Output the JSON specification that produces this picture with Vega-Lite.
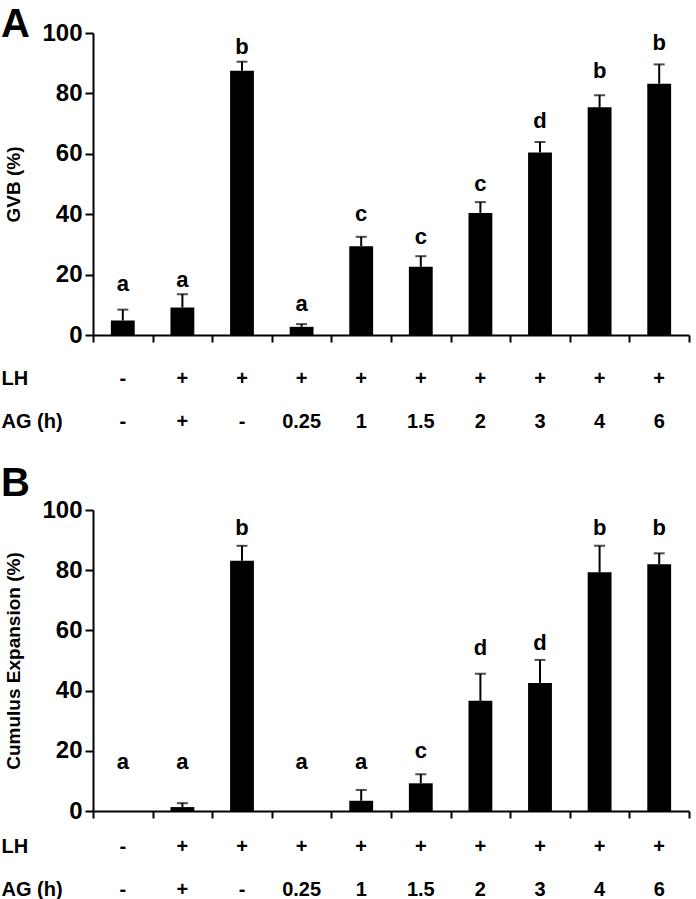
{
  "$schema": "https://vega.github.io/schema/vega-lite/v6.json",
  "background": "white",
  "padding": {"left": 0, "top": 5, "right": 3, "bottom": 0},
  "config": {
    "font": "Liberation Sans",
    "view": {"stroke": null},
    "axisQuantitative": {
      "grid": false,
      "domainColor": "black", "domainWidth": 2,
      "tickColor": "black", "tickWidth": 2, "tickSize": 8,
      "labelFontSize": 24, "labelFontWeight": "bold", "labelColor": "black", "labelPadding": 3,
      "titleFontSize": 19, "titleFontWeight": "bold", "titleColor": "black", "titlePadding": 18
    }
  },
  "datasets": {
    "gvb": [
      {"cond": "LH-/AG-", "LH": "-", "AG (h)": "-", "mean": 4.8, "upper": 8.4, "sig": "a", "sigPos": 16.8},
      {"cond": "LH+/AG+", "LH": "+", "AG (h)": "+", "mean": 9.1, "upper": 13.5, "sig": "a", "sigPos": 18.2},
      {"cond": "LH+/AG-", "LH": "+", "AG (h)": "-", "mean": 87.5, "upper": 90.5, "sig": "b", "sigPos": 95.2},
      {"cond": "LH+/AG 0.25h", "LH": "+", "AG (h)": "0.25", "mean": 2.7, "upper": 3.6, "sig": "a", "sigPos": 10.4},
      {"cond": "LH+/AG 1h", "LH": "+", "AG (h)": "1", "mean": 29.4, "upper": 32.5, "sig": "c", "sigPos": 40.2},
      {"cond": "LH+/AG 1.5h", "LH": "+", "AG (h)": "1.5", "mean": 22.6, "upper": 26.1, "sig": "c", "sigPos": 32.3},
      {"cond": "LH+/AG 2h", "LH": "+", "AG (h)": "2", "mean": 40.4, "upper": 44.0, "sig": "c", "sigPos": 50.1},
      {"cond": "LH+/AG 3h", "LH": "+", "AG (h)": "3", "mean": 60.4, "upper": 63.9, "sig": "d", "sigPos": 70.8},
      {"cond": "LH+/AG 4h", "LH": "+", "AG (h)": "4", "mean": 75.4, "upper": 79.4, "sig": "b", "sigPos": 87.4},
      {"cond": "LH+/AG 6h", "LH": "+", "AG (h)": "6", "mean": 83.2, "upper": 89.6, "sig": "b", "sigPos": 96.6}
    ],
    "ce": [
      {"cond": "LH-/AG-", "LH": "-", "AG (h)": "-", "mean": 0, "upper": null, "sig": "a", "sigPos": 16.4},
      {"cond": "LH+/AG+", "LH": "+", "AG (h)": "+", "mean": 1.3, "upper": 2.6, "sig": "a", "sigPos": 16.4},
      {"cond": "LH+/AG-", "LH": "+", "AG (h)": "-", "mean": 83.1, "upper": 88.1, "sig": "b", "sigPos": 94.0},
      {"cond": "LH+/AG 0.25h", "LH": "+", "AG (h)": "0.25", "mean": 0, "upper": null, "sig": "a", "sigPos": 16.4},
      {"cond": "LH+/AG 1h", "LH": "+", "AG (h)": "1", "mean": 3.4, "upper": 7.0, "sig": "a", "sigPos": 16.4},
      {"cond": "LH+/AG 1.5h", "LH": "+", "AG (h)": "1.5", "mean": 9.2, "upper": 12.2, "sig": "c", "sigPos": 19.8},
      {"cond": "LH+/AG 2h", "LH": "+", "AG (h)": "2", "mean": 36.6, "upper": 45.6, "sig": "d", "sigPos": 54.1},
      {"cond": "LH+/AG 3h", "LH": "+", "AG (h)": "3", "mean": 42.5, "upper": 50.2, "sig": "d", "sigPos": 55.7},
      {"cond": "LH+/AG 4h", "LH": "+", "AG (h)": "4", "mean": 79.3, "upper": 88.1, "sig": "b", "sigPos": 94.0},
      {"cond": "LH+/AG 6h", "LH": "+", "AG (h)": "6", "mean": 82.0, "upper": 85.6, "sig": "b", "sigPos": 94.0}
    ]
  },
  "spacing": 30,
  "vconcat": [
    {
      "spacing": 21,
      "vconcat": [
        {
          "width": 596, "height": 302,
          "title": {"text": "A", "anchor": "start", "frame": "bounds", "fontSize": 40, "fontWeight": "bold", "color": "black", "offset": -24, "dx": -4},
          "data": {"name": "gvb"},
          "encoding": {
            "x": {"field": "cond", "type": "nominal", "sort": null,
              "scale": {"paddingInner": 0, "paddingOuter": 0},
              "axis": {"labels": false, "title": null, "tickBand": "extent", "tickSize": 7, "tickWidth": 2, "tickColor": "black", "domainWidth": 2, "domainColor": "black"}}
          },
          "layer": [
            {"mark": {"type": "rule", "strokeWidth": 2, "color": "black"},
             "encoding": {"y": {"field": "mean", "type": "quantitative", "scale": {"domain": [0, 100]}, "axis": {"title": "GVB (%)", "values": [0, 20, 40, 60, 80, 100]}}, "y2": {"field": "upper"}}},
            {"mark": {"type": "tick", "thickness": 2, "size": 11, "color": "black"},
             "encoding": {"y": {"field": "upper", "type": "quantitative", "scale": {"domain": [0, 100]}, "axis": {"title": "GVB (%)", "values": [0, 20, 40, 60, 80, 100]}}}},
            {"mark": {"type": "bar", "color": "black", "width": {"band": 0.4}},
             "encoding": {"y": {"field": "mean", "type": "quantitative", "scale": {"domain": [0, 100]}, "axis": {"title": "GVB (%)", "values": [0, 20, 40, 60, 80, 100]}}}},
            {"mark": {"type": "text", "fontSize": 22, "fontWeight": "bold", "baseline": "middle", "color": "black"},
             "encoding": {"y": {"field": "sigPos", "type": "quantitative", "scale": {"domain": [0, 100]}, "axis": {"title": "GVB (%)", "values": [0, 20, 40, 60, 80, 100]}}, "text": {"field": "sig"}}}
          ]
        },
        {
          "width": 596, "height": 64.5,
          "data": {"name": "gvb"},
          "transform": [{"fold": ["LH", "AG (h)"], "as": ["row", "val"]}],
          "mark": {"type": "text", "fontSize": 20, "fontWeight": "bold", "baseline": "middle", "color": "black"},
          "encoding": {
            "x": {"field": "cond", "type": "nominal", "sort": null, "axis": null},
            "y": {"field": "row", "type": "nominal", "sort": ["LH", "AG (h)"], "scale": {"padding": 0.25},
              "axis": {"title": null, "domain": false, "ticks": false, "tickSize": 0, "labelAlign": "left", "labelPadding": 92, "labelFontSize": 20, "labelFontWeight": "bold", "labelColor": "black"}},
            "text": {"field": "val"}
          }
        }
      ]
    },
    {
      "spacing": 13,
      "vconcat": [
        {
          "width": 596, "height": 301,
          "title": {"text": "B", "anchor": "start", "frame": "bounds", "fontSize": 40, "fontWeight": "bold", "color": "black", "offset": -5.5, "dx": -4},
          "data": {"name": "ce"},
          "encoding": {
            "x": {"field": "cond", "type": "nominal", "sort": null,
              "scale": {"paddingInner": 0, "paddingOuter": 0},
              "axis": {"labels": false, "title": null, "tickBand": "extent", "tickSize": 7, "tickWidth": 2, "tickColor": "black", "domainWidth": 2, "domainColor": "black"}}
          },
          "layer": [
            {"mark": {"type": "rule", "strokeWidth": 2, "color": "black"},
             "encoding": {"y": {"field": "mean", "type": "quantitative", "scale": {"domain": [0, 100]}, "axis": {"title": "Cumulus Expansion (%)", "values": [0, 20, 40, 60, 80, 100]}}, "y2": {"field": "upper"}}},
            {"mark": {"type": "tick", "thickness": 2, "size": 11, "color": "black"},
             "encoding": {"y": {"field": "upper", "type": "quantitative", "scale": {"domain": [0, 100]}, "axis": {"title": "Cumulus Expansion (%)", "values": [0, 20, 40, 60, 80, 100]}}}},
            {"mark": {"type": "bar", "color": "black", "width": {"band": 0.4}},
             "encoding": {"y": {"field": "mean", "type": "quantitative", "scale": {"domain": [0, 100]}, "axis": {"title": "Cumulus Expansion (%)", "values": [0, 20, 40, 60, 80, 100]}}}},
            {"mark": {"type": "text", "fontSize": 22, "fontWeight": "bold", "baseline": "middle", "color": "black"},
             "encoding": {"y": {"field": "sigPos", "type": "quantitative", "scale": {"domain": [0, 100]}, "axis": {"title": "Cumulus Expansion (%)", "values": [0, 20, 40, 60, 80, 100]}}, "text": {"field": "sig"}}}
          ]
        },
        {
          "width": 596, "height": 64.5,
          "data": {"name": "ce"},
          "transform": [{"fold": ["LH", "AG (h)"], "as": ["row", "val"]}],
          "mark": {"type": "text", "fontSize": 20, "fontWeight": "bold", "baseline": "middle", "color": "black"},
          "encoding": {
            "x": {"field": "cond", "type": "nominal", "sort": null, "axis": null},
            "y": {"field": "row", "type": "nominal", "sort": ["LH", "AG (h)"], "scale": {"padding": 0.25},
              "axis": {"title": null, "domain": false, "ticks": false, "tickSize": 0, "labelAlign": "left", "labelPadding": 92, "labelFontSize": 20, "labelFontWeight": "bold", "labelColor": "black"}},
            "text": {"field": "val"}
          }
        }
      ]
    }
  ]
}
